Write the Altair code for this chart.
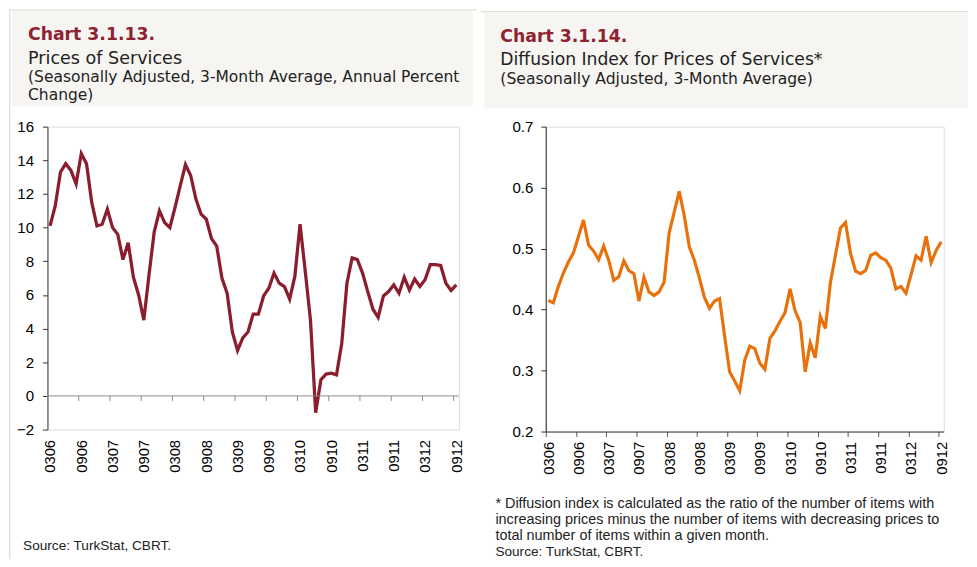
import altair as alt
import pandas as pd

# ---------------- data ----------------
tick_labels = ['0306', '0906', '0307', '0907', '0308', '0908', '0309', '0909',
               '0310', '0910', '0311', '0911', '0312', '0912']

# Chart 3.1.13: services prices, annual % change (monthly, Mar 2006 - Sep 2012)
services_inflation = [
    10.1, 11.3, 13.3, 13.8, 13.4, 12.6, 14.4, 13.8, 11.5, 10.1,
    10.2, 11.1, 10.0, 9.6, 8.1, 9.1, 7.05, 6.0, 4.5, 7.2,
    9.75, 11.0, 10.3, 10.0, 11.2, 12.5, 13.75, 13.1, 11.7, 10.8,
    10.5, 9.35, 8.9, 7.0, 6.1, 3.8, 2.7, 3.45, 3.8, 4.86,
    4.86, 5.94, 6.4, 7.3, 6.7, 6.5, 5.75, 7.1, 10.2, 7.4,
    4.5, -1.0, 0.96, 1.3, 1.35, 1.25, 3.1, 6.7, 8.2, 8.1,
    7.3, 6.2, 5.15, 4.67, 5.94, 6.2, 6.6, 6.1, 7.05, 6.3,
    6.95, 6.5, 6.9, 7.8, 7.8, 7.75, 6.7, 6.27, 6.6,
]

# Chart 3.1.14: diffusion index for prices of services
diffusion_index = [
    0.415, 0.411, 0.438, 0.460, 0.478, 0.493, 0.520, 0.547, 0.506, 0.496,
    0.482, 0.504, 0.481, 0.448, 0.454, 0.480, 0.464, 0.459, 0.414, 0.453,
    0.429, 0.423, 0.429, 0.445, 0.526, 0.560, 0.594, 0.554, 0.503, 0.481,
    0.452, 0.420, 0.402, 0.414, 0.418, 0.357, 0.298, 0.283, 0.267, 0.317,
    0.340, 0.336, 0.312, 0.302, 0.353, 0.365, 0.381, 0.395, 0.434, 0.398,
    0.379, 0.298, 0.345, 0.321, 0.389, 0.369, 0.444, 0.489, 0.534, 0.543,
    0.492, 0.463, 0.459, 0.464, 0.489, 0.493, 0.485, 0.481, 0.468, 0.434,
    0.438, 0.427, 0.457, 0.488, 0.481, 0.520, 0.477, 0.497, 0.511,
]

n_months = len(services_inflation)
month_pos = [i + 0.5 for i in range(n_months)]          # category centres
tick_values = [6 * k for k in range(len(tick_labels))]  # category boundaries

left_y_ticks = [-2, 0, 2, 4, 6, 8, 10, 12, 14, 16]
right_y_ticks = [0.2, 0.3, 0.4, 0.5, 0.6, 0.7]

# ---------------- styles ----------------
RED = '#8B1E2E'
ORANGE = '#E8710C'
TITLE_RED = '#8E2232'
HEADER_BG = '#F6F5F1'
BORDER = '#D6D2C6'
HFONT = 'DejaVu Sans'
AFONT = 'Liberation Sans'

label_expr = "[" + ",".join("'%s'" % t for t in tick_labels) + "][round(datum.value/6)]"

one = pd.DataFrame({'a': [0]})


def rect(x, x2, y, y2, color):
    return alt.Chart(one).mark_rect(color=color).encode(
        x=alt.value(x), x2=alt.value(x2), y=alt.value(y), y2=alt.value(y2))


def rule(x, x2, y, y2, color):
    return alt.Chart(one).mark_rule(color=color, strokeWidth=1).encode(
        x=alt.value(x), x2=alt.value(x2), y=alt.value(y), y2=alt.value(y2))


def text(s, x, y, size, color='#222222', weight='normal', font=HFONT):
    return alt.Chart(one).mark_text(
        align='left', baseline='alphabetic', font=font, fontSize=size,
        fontWeight=weight, color=color).encode(
        x=alt.value(x), y=alt.value(y), text=alt.value(s))


# ---------------- left panel ----------------
W1, H1 = 417, 307
OX1, OY1 = 46.7, 126.7  # page position of plot origin

xs1 = alt.Scale(domain=[0, n_months], nice=False, zero=False)
ys1 = alt.Scale(domain=[-2, 16], nice=False, zero=False)

xaxis1 = alt.Axis(values=tick_values, labelExpr=label_expr, labelAngle=270,
                  domain=False, ticks=False, grid=False, labelPadding=10,
                  labelOffset=2.6, labelFont=AFONT, labelFontSize=15,
                  labelColor='black', title=None)
yaxis1 = alt.Axis(values=left_y_ticks, grid=False, domainColor='#333333',
                  tickColor='#333333', tickSize=5, labelPadding=9,
                  labelFont=AFONT, labelFontSize=15.3, labelColor='black', title=None)

df1 = pd.DataFrame({'pos': month_pos, 'val': services_inflation})
line1 = alt.Chart(df1).mark_line(color=RED, strokeWidth=3.3).encode(
    x=alt.X('pos:Q', scale=xs1, axis=xaxis1),
    y=alt.Y('val:Q', scale=ys1, axis=yaxis1),
)

zero_df = pd.DataFrame({'pos': [0], 'pos2': [n_months], 'val': [0]})
zero_line = alt.Chart(zero_df).mark_rule(color='#8A8A8A', strokeWidth=1).encode(
    x=alt.X('pos:Q', scale=xs1, axis=xaxis1), x2='pos2:Q',
    y=alt.Y('val:Q', scale=ys1, axis=yaxis1))

tick_df = pd.DataFrame({'pos': tick_values, 'val': [0] * len(tick_values),
                        'val2': [-0.3] * len(tick_values)})
zero_ticks = alt.Chart(tick_df).mark_rule(color='#8A8A8A', strokeWidth=1).encode(
    x=alt.X('pos:Q', scale=xs1, axis=xaxis1),
    y=alt.Y('val:Q', scale=ys1, axis=yaxis1), y2='val2:Q')


def r1x(px):
    return px - OX1


def r1y(py):
    return py - OY1


left = alt.layer(
    rule(r1x(8.5), r1x(8.5), r1y(8), r1y(565), BORDER),
    rule(r1x(8), r1x(481.5), r1y(8.5), r1y(8.5), BORDER),
    rect(r1x(11), r1x(478), r1y(10), r1y(106), HEADER_BG),
    text('Chart 3.1.13.', r1x(27), r1y(39), 17.5, TITLE_RED, 'bold'),
    text('Prices of  Services', r1x(27), r1y(63), 17.8),
    text('(Seasonally Adjusted, 3-Month Average, Annual Percent', r1x(27), r1y(81.5), 15.7),
    text('Change)', r1x(27), r1y(99.5), 15.7),
    text('Source: TurkStat, CBRT.', r1x(22), r1y(556), 13.8, '#222222', 'normal', AFONT),
    line1, zero_line, zero_ticks,
).properties(width=W1, height=H1)

# ---------------- right panel ----------------
W2, H2 = 403.4, 309
OX2, OY2 = 548, 125

xs2 = alt.Scale(domain=[0, n_months], nice=False, zero=False)
ys2 = alt.Scale(domain=[0.2, 0.7], nice=False, zero=False)

df2 = pd.DataFrame({'pos': month_pos, 'val': diffusion_index})

line2 = alt.Chart(df2).mark_line(color=ORANGE, strokeWidth=3.2).encode(
    x=alt.X('pos:Q', scale=xs2, title=None,
            axis=alt.Axis(values=tick_values, labelExpr=label_expr, labelAngle=270,
                          domain=True, domainColor='#333333', ticks=True,
                          tickColor='#555555', tickSize=5, grid=False, labelPadding=5,
                          labelOffset=2.55, labelFont=AFONT, labelFontSize=15,
                          labelColor='black')),
    y=alt.Y('val:Q', scale=ys2, title=None,
            axis=alt.Axis(values=right_y_ticks, format='.1f', grid=False,
                          domainColor='#222222', tickColor='#333333', tickSize=5,
                          labelPadding=8, labelFont=AFONT, labelFontSize=15.3,
                          labelColor='black')),
)


def r2x(px):
    return px - OX2


def r2y(py):
    return py - OY2


right = alt.layer(
    rule(r2x(482.5), r2x(976), r2y(8.5), r2y(8.5), BORDER),
    rect(r2x(486), r2x(976), r2y(10), r2y(106), HEADER_BG),
    text('Chart 3.1.14.', r2x(502), r2y(39), 17.5, TITLE_RED, 'bold'),
    text('Diffusion Index for Prices of Services*', r2x(502), r2y(63), 17.4),
    text('(Seasonally Adjusted, 3-Month Average)', r2x(502), r2y(81.5), 15.8),
    text('* Diffusion index is calculated as the ratio of the number of items with',
         r2x(497), r2y(511), 14.6, '#222222', 'normal', AFONT),
    text('increasing prices minus the number of items with decreasing prices to',
         r2x(497), r2y(527.5), 14.6, '#222222', 'normal', AFONT),
    text('total number of items within a given month.',
         r2x(497), r2y(544), 14.6, '#222222', 'normal', AFONT),
    text('Source: TurkStat, CBRT.', r2x(497), r2y(560), 13.8, '#222222', 'normal', AFONT),
    line2,
).properties(width=W2, height=H2)

chart = alt.hconcat(
    left, right, spacing=2,
    padding={'left': 0, 'top': -3.5, 'right': 0, 'bottom': 0},
).configure_view(stroke=None).configure(background='white')

chart.save('out.html', embed_options={'renderer': 'svg', 'actions': False})
